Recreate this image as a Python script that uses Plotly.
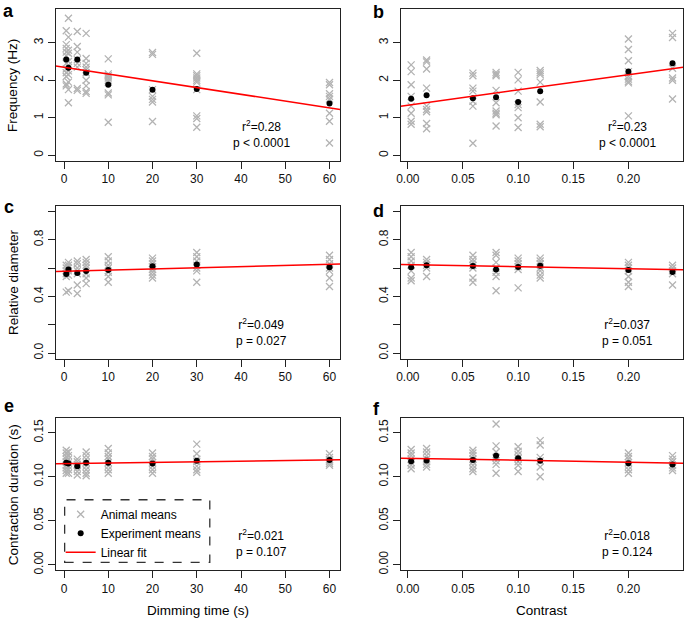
import plotly.graph_objects as go

# ==========================================================
# DATA
# ==========================================================

dimming_time = [0.5, 1, 3, 5, 10, 20, 30, 60]
contrast = [0.003, 0.017, 0.059, 0.08, 0.1, 0.12, 0.2, 0.24]

# a: frequency vs dimming time
freq_dim_animals = [
    [3.32, 2.95, 2.85, 2.75, 2.65, 2.45, 2.3, 2.2, 2.1, 1.9, 1.85],
    [3.65, 3.15, 2.8, 2.72, 2.5, 2.4, 2.25, 2.15, 1.95, 1.75, 1.4],
    [3.3, 2.9, 2.75, 2.55, 2.45, 2.35, 1.78, 1.73],
    [3.25, 2.58, 2.45, 2.35, 2.28, 2.2, 2.0, 1.85, 1.7, 1.65],
    [2.57, 2.17, 2.12, 2.06, 2.0, 1.95, 1.66, 1.61, 0.88],
    [2.74, 2.69, 1.75, 1.57, 1.49, 1.42, 0.9],
    [2.72, 2.17, 2.12, 2.06, 2.0, 1.95, 1.75, 1.05, 0.98, 0.75],
    [1.94, 1.88, 1.64, 1.57, 1.5, 1.12, 0.91, 0.33],
]
freq_dim_means = [2.55, 2.33, 2.55, 2.2, 1.88, 1.75, 1.77, 1.38]
freq_dim_fit = [2.345, -0.018]  # intercept, slope

# b: frequency vs contrast
freq_con_animals = [
    [2.41, 2.23, 1.88, 1.57, 1.31, 1.12, 0.91, 0.83],
    [2.54, 2.49, 2.3, 1.79, 1.31, 1.22, 1.16, 0.85, 0.71],
    [2.19, 2.12, 1.79, 1.71, 1.44, 1.31, 0.32],
    [2.21, 2.16, 2.12, 1.73, 1.4, 1.18, 1.12, 1.08, 0.78],
    [2.21, 2.01, 1.71, 1.35, 1.27, 1.0, 0.74],
    [2.26, 2.2, 2.15, 1.95, 1.42, 0.83, 0.76],
    [3.1, 2.82, 2.52, 2.23, 2.1, 2.03, 1.97, 1.93, 1.05],
    [3.25, 3.14, 2.32, 2.06, 2.0, 1.5],
]
freq_con_means = [1.51, 1.6, 1.52, 1.55, 1.42, 1.71, 2.23, 2.45]
freq_con_fit = [1.336, 4.06]

# c: relative diameter vs dimming time
diam_dim_animals = [
    [0.62, 0.6, 0.58, 0.56, 0.54, 0.43],
    [0.64, 0.62, 0.6, 0.58, 0.55, 0.44],
    [0.65, 0.63, 0.6, 0.58, 0.56, 0.48, 0.42],
    [0.66, 0.64, 0.62, 0.6, 0.56, 0.53, 0.49],
    [0.68, 0.65, 0.62, 0.6, 0.57, 0.54, 0.5],
    [0.67, 0.65, 0.63, 0.61, 0.59, 0.57, 0.55, 0.53],
    [0.71, 0.68, 0.65, 0.62, 0.6, 0.58, 0.5],
    [0.69, 0.66, 0.63, 0.6, 0.58, 0.53, 0.47],
]
diam_dim_means = [0.558, 0.59, 0.565, 0.579, 0.586, 0.612, 0.624, 0.605]
diam_dim_fit = [0.5775, 0.00081]

# d: relative diameter vs contrast
diam_con_animals = [
    [0.71, 0.68, 0.65, 0.62, 0.58, 0.53, 0.51],
    [0.66, 0.64, 0.62, 0.6, 0.54],
    [0.69, 0.66, 0.64, 0.62, 0.6, 0.53, 0.5],
    [0.71, 0.69, 0.64, 0.6, 0.57, 0.54, 0.44],
    [0.67, 0.65, 0.63, 0.61, 0.59, 0.46],
    [0.67, 0.65, 0.63, 0.6, 0.58, 0.55, 0.53],
    [0.64, 0.62, 0.6, 0.58, 0.54, 0.5, 0.47],
    [0.62, 0.6, 0.58, 0.56, 0.48],
]
diam_con_means = [0.605, 0.619, 0.614, 0.59, 0.607, 0.616, 0.586, 0.572]
diam_con_fit = [0.623, -0.14]

# e: contraction duration vs dimming time
dur_dim_animals = [
    [0.13, 0.127, 0.123, 0.12, 0.117, 0.113, 0.11, 0.107, 0.104],
    [0.128, 0.124, 0.12, 0.116, 0.112, 0.108, 0.104],
    [0.12, 0.117, 0.114, 0.11, 0.106, 0.102],
    [0.128, 0.124, 0.12, 0.116, 0.112, 0.108, 0.104, 0.101],
    [0.132, 0.127, 0.123, 0.12, 0.116, 0.112, 0.108, 0.104],
    [0.127, 0.123, 0.12, 0.116, 0.112, 0.108, 0.104],
    [0.137, 0.126, 0.12, 0.117, 0.112, 0.108, 0.105],
    [0.126, 0.122, 0.119, 0.117, 0.115, 0.113],
]
dur_dim_means = [0.116, 0.115, 0.112, 0.116, 0.116, 0.115, 0.118, 0.119]
dur_dim_fit = [0.1148, 0.00007]

# f: contraction duration vs contrast
dur_con_animals = [
    [0.131, 0.127, 0.124, 0.12, 0.116, 0.113, 0.109],
    [0.132, 0.128, 0.124, 0.12, 0.117, 0.114, 0.111],
    [0.13, 0.127, 0.124, 0.12, 0.117, 0.113, 0.109, 0.106],
    [0.16, 0.135, 0.128, 0.122, 0.118, 0.114, 0.104],
    [0.134, 0.129, 0.125, 0.121, 0.117, 0.113, 0.106],
    [0.141, 0.136, 0.122, 0.118, 0.111, 0.1],
    [0.127, 0.123, 0.12, 0.116, 0.112, 0.108, 0.104],
    [0.124, 0.12, 0.117, 0.113, 0.11, 0.107],
]
dur_con_means = [0.1177, 0.1184, 0.119, 0.1237, 0.121, 0.118, 0.1154, 0.114]
dur_con_fit = [0.1209, -0.022]

stats_r2 = ["0.28", "0.23", "0.049", "0.037", "0.021", "0.018"]
stats_p = ["p &lt; 0.0001", "p &lt; 0.0001", "p = 0.027",
           "p = 0.051", "p = 0.107", "p = 0.124"]
panel_letters = ["a", "b", "c", "d", "e", "f"]

# ==========================================================
# STYLE / LAYOUT
# ==========================================================

W, H = 685, 621
FONT = "Liberation Sans, Arial, Helvetica, sans-serif"
GREY = "#b3b3b3"
AXIS_COLOR = "#222222"


def px(x):
    return x / W


def py(y):
    return 1 - y / H


# pixel boxes of the six plot regions
cols = [(52, 338), (399, 683)]
rows = [(9, 162), (207, 361), (421, 574)]

# anchor of each bold panel letter (left, middle)
letter_pos = [(-3, 11), (369, 12), (-2, 208), (369, 212), (-2, 409), (369, 412)]

range_dim = [-1.88, 62.38]
range_con = [-0.0065, 0.2495]
range_freq = [-0.15, 3.9]
range_diam = [-0.04, 1.04]
range_dur = [-0.0064, 0.1664]

panels = [
    (dimming_time, freq_dim_animals, freq_dim_means, freq_dim_fit, range_dim, range_freq),
    (contrast, freq_con_animals, freq_con_means, freq_con_fit, range_con, range_freq),
    (dimming_time, diam_dim_animals, diam_dim_means, diam_dim_fit, range_dim, range_diam),
    (contrast, diam_con_animals, diam_con_means, diam_con_fit, range_con, range_diam),
    (dimming_time, dur_dim_animals, dur_dim_means, dur_dim_fit, range_dim, range_dur),
    (contrast, dur_con_animals, dur_con_means, dur_con_fit, range_con, range_dur),
]

fig = go.Figure()
layout = {}
annotations = []

axis_common = dict(
    showline=True,
    mirror=True,
    linecolor=AXIS_COLOR,
    linewidth=1,
    ticks="outside",
    ticklen=7,
    tickwidth=1,
    tickcolor=AXIS_COLOR,
    showgrid=False,
    zeroline=False,
    tickfont=dict(size=12, color="#111111", family=FONT),
)

for i, (xs, animals, means, fit, xr, yr) in enumerate(panels):

    n = i + 1
    suffix = "" if n == 1 else str(n)
    col = cols[i % 2]
    row = rows[i // 2]
    legend_on = (i == 4)

    # grey crosses: animal means
    fig.add_trace(
        go.Scatter(
            x=[x for x, vals in zip(xs, animals) for _ in vals],
            y=[v for vals in animals for v in vals],
            mode="markers",
            name="Animal means",
            marker=dict(
                symbol="x-thin-open",
                size=7,
                color=GREY,
                line=dict(width=1.3, color=GREY)
            ),
            showlegend=legend_on,
            xaxis="x" + suffix,
            yaxis="y" + suffix
        )
    )

    # black dots: experiment means
    fig.add_trace(
        go.Scatter(
            x=xs,
            y=means,
            mode="markers",
            name="Experiment means",
            marker=dict(size=6, color="black"),
            showlegend=legend_on,
            xaxis="x" + suffix,
            yaxis="y" + suffix
        )
    )

    # red linear fit across the whole plot region
    fig.add_trace(
        go.Scatter(
            x=xr,
            y=[fit[0] + fit[1] * x for x in xr],
            mode="lines",
            name="Linear fit",
            line=dict(color="#ff0000", width=1.5),
            showlegend=legend_on,
            xaxis="x" + suffix,
            yaxis="y" + suffix
        )
    )

    # axes
    xaxis = dict(
        axis_common,
        domain=[px(col[0]), px(col[1])],
        range=xr,
        anchor="y" + suffix
    )
    if xs is dimming_time:
        xaxis.update(tickvals=[0, 10, 20, 30, 40, 50, 60])
    else:
        xaxis.update(tickvals=[0, 0.05, 0.1, 0.15, 0.2], tickformat=".2f")

    yaxis = dict(
        axis_common,
        domain=[py(row[1]), py(row[0])],
        range=yr,
        anchor="x" + suffix,
        tickangle=-90
    )
    if yr is range_freq:
        yaxis.update(tickvals=[0, 1, 2, 3])
    elif yr is range_diam:
        yaxis.update(
            tickvals=[0, 0.4, 0.8],
            tickformat=".1f",
            minor=dict(
                tickvals=[0.2, 0.6, 1.0],
                ticks="outside",
                ticklen=7,
                tickwidth=1,
                tickcolor=AXIS_COLOR,
                showgrid=False
            )
        )
    else:
        yaxis.update(tickvals=[0, 0.05, 0.1, 0.15], tickformat=".2f")

    layout["xaxis" + suffix] = xaxis
    layout["yaxis" + suffix] = yaxis

    # panel letter
    lx, ly = letter_pos[i]
    annotations.append(dict(
        text="<b>" + panel_letters[i] + "</b>",
        x=px(lx), y=py(ly),
        xref="paper", yref="paper",
        xanchor="left", yanchor="middle",
        showarrow=False,
        font=dict(size=18, family=FONT, color="black")
    ))

    # statistics text
    annotations.append(dict(
        text="r<sup>2</sup>=" + stats_r2[i] + "<br>" + stats_p[i],
        x=px(259 if i % 2 == 0 else 627),
        y=py(row[1] - 27),
        xref="paper", yref="paper",
        xanchor="center", yanchor="middle",
        showarrow=False,
        font=dict(size=12, family=FONT, color="black")
    ))

# axis titles
y_titles = ["Frequency (Hz)", "Relative diameter", "Contraction duration (s)"]
for (top, bottom), title in zip(rows, y_titles):
    annotations.append(dict(
        text=title,
        x=px(9), y=py((top + bottom) / 2),
        xref="paper", yref="paper",
        xanchor="center", yanchor="middle",
        textangle=-90,
        showarrow=False,
        font=dict(size=13.5, family=FONT, color="black")
    ))

for (left, right), title in zip(cols, ["Dimming time (s)", "Contrast"]):
    annotations.append(dict(
        text=title,
        x=px((left + right) / 2), y=py(614),
        xref="paper", yref="paper",
        xanchor="center", yanchor="middle",
        showarrow=False,
        font=dict(size=13.5, family=FONT, color="black")
    ))

fig.update_layout(
    layout,
    width=W,
    height=H,
    margin=dict(l=0, r=0, t=0, b=0),
    paper_bgcolor="white",
    plot_bgcolor="white",
    font=dict(family=FONT, size=12, color="black"),
    annotations=annotations,
    legend=dict(
        x=px(57),
        y=py(503),
        xanchor="left",
        yanchor="top",
        bgcolor="rgba(0,0,0,0)",
        borderwidth=0,
        font=dict(size=12, family=FONT, color="black"),
        tracegroupgap=0
    ),
    shapes=[
        dict(
            type="rect",
            xref="paper", yref="paper",
            x0=px(61), x1=px(207),
            y0=py(566), y1=py(503),
            line=dict(color="#333333", width=1.3, dash="dash"),
            fillcolor="rgba(0,0,0,0)"
        )
    ]
)

# drop the default 8px body margin so the figure fills the window
fig.write_html(
    "out.html",
    config={"displayModeBar": False},
    post_script="document.body.style.margin = '0';"
)
